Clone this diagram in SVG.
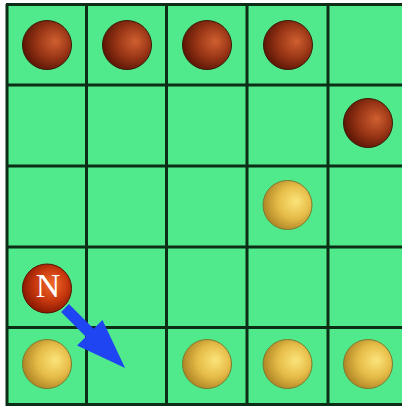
<svg xmlns="http://www.w3.org/2000/svg" width="402" height="406" viewBox="0 0 402 406">
<style>
.grid{stroke:#0c2e16;stroke-width:3;fill:none}
.brown{fill:url(#gBrown);stroke:#3a1a08;stroke-width:1}
.yellow{fill:url(#gYellow);stroke:#7a7a30;stroke-width:1}
.red{fill:url(#gRed);stroke:#5a1000;stroke-width:1}
.lbl{font-family:"Liberation Serif","DejaVu Serif",serif;font-size:34px;fill:#ffffff;text-anchor:middle}
</style>
<defs>
<radialGradient id="gBrown" cx="0.6" cy="0.45" r="0.6" fx="0.68" fy="0.42">
<stop offset="0" stop-color="#cf6030"/>
<stop offset="0.55" stop-color="#9a3616"/>
<stop offset="1" stop-color="#5c1606"/>
</radialGradient>
<radialGradient id="gYellow" cx="0.6" cy="0.45" r="0.6" fx="0.68" fy="0.42">
<stop offset="0" stop-color="#fbe47a"/>
<stop offset="0.55" stop-color="#e6bc48"/>
<stop offset="1" stop-color="#b08626"/>
</radialGradient>
<radialGradient id="gRed" cx="0.55" cy="0.45" r="0.6" fx="0.62" fy="0.4">
<stop offset="0" stop-color="#f06a2a"/>
<stop offset="0.55" stop-color="#c8380e"/>
<stop offset="1" stop-color="#7e1500"/>
</radialGradient>
</defs>
<rect x="0" y="0" width="402" height="406" fill="#ffffff"/>
<rect x="6" y="4" width="396" height="402" fill="#50ea8c"/>
<g id="grid" class="grid">
<line x1="6" y1="4.5" x2="402" y2="4.5"/>
<line x1="6" y1="85" x2="402" y2="85"/>
<line x1="6" y1="166" x2="402" y2="166"/>
<line x1="6" y1="247" x2="402" y2="247"/>
<line x1="6" y1="327.5" x2="402" y2="327.5"/>
<line x1="6" y1="404.5" x2="402" y2="404.5"/>
<line x1="7" y1="4" x2="7" y2="406"/>
<line x1="86.5" y1="4" x2="86.5" y2="406"/>
<line x1="166.5" y1="4" x2="166.5" y2="406"/>
<line x1="247" y1="4" x2="247" y2="406"/>
<line x1="328" y1="4" x2="328" y2="406"/>
</g>
<g id="b00"><circle class="brown" cx="47" cy="45" r="24.5"/></g>
<g id="b01"><circle class="brown" cx="127" cy="45" r="24.5"/></g>
<g id="b02"><circle class="brown" cx="207" cy="45" r="24.5"/></g>
<g id="b03"><circle class="brown" cx="288" cy="45" r="24.5"/></g>
<g id="b14"><circle class="brown" cx="368" cy="123" r="24.5"/></g>
<g id="y23"><circle class="yellow" cx="287.5" cy="205" r="24.5"/></g>
<g id="y40"><circle class="yellow" cx="47" cy="364" r="24.5"/></g>
<g id="y42"><circle class="yellow" cx="207" cy="364" r="24.5"/></g>
<g id="y43"><circle class="yellow" cx="287.5" cy="364" r="24.5"/></g>
<g id="y44"><circle class="yellow" cx="368" cy="364" r="24.5"/></g>
<g id="n30"><circle class="red" cx="47" cy="288.5" r="24.5"/><text class="lbl" x="48" y="297">N</text></g>
<g id="connectors">
<polygon fill="#1f44f2" points="0,-5.5 35,-5.5 35,-18 85,0 35,18 35,5.5 0,5.5" transform="translate(65,308) rotate(45)"/>
</g>
</svg>
